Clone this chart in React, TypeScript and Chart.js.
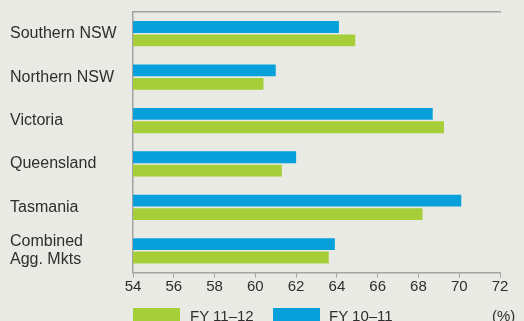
import React, { useEffect, useRef } from 'react';
import { Chart, registerables } from 'chart.js';

Chart.register(...registerables);

const categories: (string | string[])[] = [
  'Southern NSW',
  'Northern NSW',
  'Victoria',
  'Queensland',
  'Tasmania',
  ['Combined', 'Agg. Mkts'],
];
const fy1011 = [64.1, 61.0, 68.7, 62.0, 70.1, 63.9];
const fy1112 = [64.9, 60.4, 69.25, 61.3, 68.2, 63.6];
const xMin = 54;
const xMax = 72;
const xStep = 2;

const BLUE = '#07a0db';
const GREEN = '#a6ce39';
const BG = '#e9eae4';
const AXIS = '#a3a3a3';
const TEXT = '#2e2e2e';
const FONT = '"Liberation Sans", Arial, Helvetica, sans-serif';

export default function App() {
  const ref = useRef<HTMLCanvasElement | null>(null);

  useEffect(() => {
    document.body.style.margin = '0';
    const canvas = ref.current;
    if (!canvas) return;
    const chart = new Chart(canvas, {
      type: 'bar',
      data: {
        labels: categories,
        datasets: [
          {
            label: 'FY 10–11',
            data: fy1011,
            backgroundColor: BLUE,
            categoryPercentage: 0.62,
            barPercentage: 0.88,
            xAxisID: 'x',
          },
          {
            label: 'FY 11–12',
            data: fy1112,
            backgroundColor: GREEN,
            categoryPercentage: 0.62,
            barPercentage: 0.88,
            xAxisID: 'x',
          },
        ],
      },
      options: {
        indexAxis: 'y',
        animation: false,
        responsive: false,
        maintainAspectRatio: false,
        layout: { padding: { left: 10, right: 24, top: 12, bottom: 0 } },
        plugins: {
          legend: { display: false },
          tooltip: { enabled: false },
        },
        scales: {
          x: {
            position: 'bottom',
            min: xMin,
            max: xMax,
            grid: {
              display: true,
              drawOnChartArea: false,
              drawTicks: true,
              tickLength: 5,
              color: AXIS,
              lineWidth: 1,
            },
            border: { display: true, color: AXIS, width: 1.5 },
            ticks: {
              stepSize: xStep,
              padding: 0,
              color: TEXT,
              font: { family: FONT, size: 15 },
              maxRotation: 0,
            },
            afterFit: (scale: any) => {
              scale.height = 48.5;
            },
          },
          x2: {
            position: 'top',
            min: xMin,
            max: xMax,
            grid: { display: false, drawTicks: false },
            border: { display: true, color: AXIS, width: 1.5 },
            ticks: { display: false },
            afterFit: (scale: any) => {
              scale.height = 0;
            },
          },
          y: {
            position: 'left',
            grid: { display: false, drawTicks: false },
            border: { display: true, color: AXIS, width: 1.5 },
            ticks: {
              crossAlign: 'far',
              color: TEXT,
              font: { family: FONT, size: 16, lineHeight: 1.1 },
            },
            afterFit: (scale: any) => {
              scale.width = 123;
              scale.paddingTop = 0;
              scale.paddingBottom = 0;
            },
          },
        },
      },
    });
    return () => chart.destroy();
  }, []);

  const legendText: React.CSSProperties = {
    position: 'absolute',
    top: 308,
    fontFamily: FONT,
    fontSize: 15,
    lineHeight: '15px',
    color: TEXT,
    whiteSpace: 'nowrap',
  };

  return (
    <div
      style={{
        position: 'relative',
        width: 524,
        height: 321,
        overflow: 'hidden',
        background: BG,
      }}
    >
      <canvas ref={ref} width={524} height={321} style={{ display: 'block' }} />
      <div style={{ position: 'absolute', left: 133, top: 308, width: 47, height: 16, background: GREEN }} />
      <div style={{ ...legendText, left: 190 }}>FY 11–12</div>
      <div style={{ position: 'absolute', left: 273, top: 308, width: 47, height: 16, background: BLUE }} />
      <div style={{ ...legendText, left: 329 }}>FY 10–11</div>
      <div style={{ ...legendText, left: 492 }}>(%)</div>
    </div>
  );
}
